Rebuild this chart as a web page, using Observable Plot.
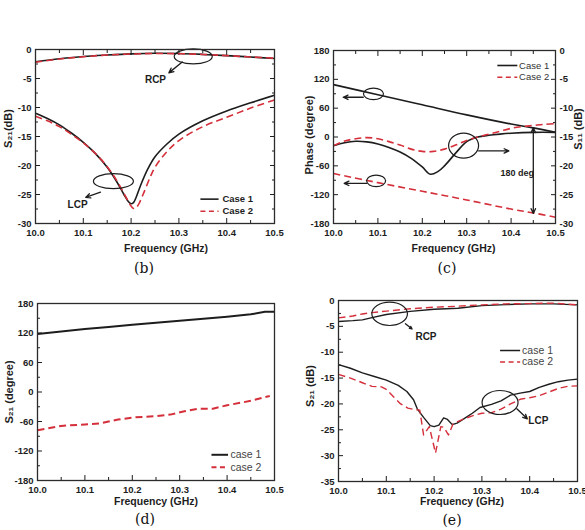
<!DOCTYPE html>
<html>
<head>
<meta charset="utf-8">
<script src="https://cdn.jsdelivr.net/npm/d3@7"></script>
<script src="https://cdn.jsdelivr.net/npm/@observablehq/plot@0.6"></script>
<style>
  html, body { margin: 0; padding: 0; background: #fff; }
  #figure { position: relative; width: 585px; height: 530px; overflow: hidden; background: #fff; }
  .panel { position: absolute; }
  .panel svg { overflow: visible; }
  .caption { position: absolute; transform: translate(-50%, -50%); font-family: "DejaVu Serif", "Liberation Serif", serif; font-size: 14px; color: #111; }
</style>
</head>
<body>
<div id="figure"></div>
<script>
// ---------- shared frequency axis ----------
const freqTicks = [10.0, 10.1, 10.2, 10.3, 10.4, 10.5];
const freqMinor = [10.05, 10.15, 10.25, 10.35, 10.45];

// ---------- (b) simulated S21 magnitude ----------
const bRcpFreq = [10.0, 10.05, 10.1, 10.15, 10.2, 10.25, 10.3, 10.35, 10.4, 10.45, 10.5];
const bRcpCase1 = [-2.1, -1.6, -1.2, -0.95, -0.75, -0.65, -0.7, -0.85, -1.05, -1.3, -1.55];
const bRcpCase2 = [-2.2, -1.65, -1.25, -0.95, -0.78, -0.68, -0.72, -0.85, -1.05, -1.28, -1.5];
const bLcpFreq1 = [10.0, 10.025, 10.05, 10.075, 10.1, 10.125, 10.15, 10.17, 10.185, 10.195, 10.2, 10.205, 10.21, 10.22, 10.235, 10.25, 10.275, 10.3, 10.35, 10.4, 10.45, 10.5];
const bLcpCase1 = [-11.0, -11.9, -13.0, -14.4, -16.0, -17.9, -20.3, -22.8, -25.0, -26.3, -26.6, -26.4, -25.6, -23.4, -20.6, -18.5, -16.3, -14.6, -12.3, -10.6, -9.2, -7.9];
const bLcpFreq2 = [10.0, 10.025, 10.05, 10.075, 10.1, 10.125, 10.15, 10.17, 10.185, 10.2, 10.205, 10.21, 10.215, 10.225, 10.24, 10.25, 10.275, 10.3, 10.35, 10.4, 10.45, 10.5];
const bLcpCase2 = [-11.5, -12.3, -13.3, -14.6, -16.1, -17.9, -20.2, -22.6, -24.8, -27.0, -27.4, -27.3, -26.8, -25.0, -22.0, -20.3, -17.6, -15.7, -13.3, -11.7, -10.1, -8.7];
const dB30Ticks = [0, -5, -10, -15, -20, -25, -30];
const dB30Minor = [-2.5, -7.5, -12.5, -17.5, -22.5, -27.5];

// ---------- (c) phase (left axis) and S11 (right axis) ----------
const cPhaseFreq = [10.0, 10.1, 10.2, 10.3, 10.4, 10.45, 10.5];
const cPhaseCase1 = [109, 88, 67, 46, 27, 19, 10];
const cPhaseCase2 = [-76, -95, -113, -131, -150, -158, -167];
const cS11Freq1 = [10.0, 10.025, 10.05, 10.075, 10.1, 10.125, 10.15, 10.175, 10.2, 10.218, 10.235, 10.25, 10.275, 10.3, 10.325, 10.35, 10.375, 10.4, 10.45, 10.5];
const cS11Case1 = [-16.5, -16.0, -15.75, -15.85, -16.2, -16.8, -17.6, -18.7, -20.2, -21.45, -21.0, -20.0, -17.8, -15.8, -15.0, -14.7, -14.5, -14.35, -14.2, -14.2];
const cS11Freq2 = [10.0, 10.025, 10.05, 10.075, 10.1, 10.125, 10.15, 10.175, 10.2, 10.225, 10.25, 10.275, 10.3, 10.325, 10.35, 10.375, 10.4, 10.425, 10.45, 10.475, 10.5];
const cS11Case2 = [-16.5, -15.7, -15.3, -15.1, -15.3, -15.8, -16.4, -17.1, -17.5, -17.5, -17.1, -16.4, -15.6, -15.0, -14.5, -14.0, -13.5, -13.2, -13.0, -12.8, -12.7];
const degTicks = [180, 120, 60, 0, -60, -120, -180];
const degMinor = [150, 90, 30, -30, -90, -150];
const s11Ticks = [0, -5, -10, -15, -20, -25, -30];

// ---------- (d) measured S21 phase ----------
const dFreq1 = [10.0, 10.05, 10.1, 10.15, 10.2, 10.25, 10.3, 10.35, 10.4, 10.45, 10.48, 10.5];
const dPhaseCase1 = [118, 123, 128, 132, 137, 141, 145, 149, 153, 158, 163, 163];
const dFreq2 = [10.0, 10.05, 10.1, 10.13, 10.17, 10.2, 10.25, 10.28, 10.31, 10.34, 10.37, 10.4, 10.45, 10.49];
const dPhaseCase2 = [-78, -69, -66, -64, -56, -52, -49, -46, -39, -34, -34, -27, -18, -8];

// ---------- (e) measured S21 magnitude ----------
const eRcpFreq = [10.0, 10.03, 10.05, 10.07, 10.1, 10.15, 10.2, 10.25, 10.3, 10.35, 10.4, 10.45, 10.5];
const eRcpCase1 = [-4.05, -3.9, -3.75, -3.3, -2.7, -2.1, -1.7, -1.5, -1.0, -0.8, -0.65, -0.65, -0.85];
const eRcpCase2 = [-3.35, -3.0, -2.6, -2.35, -2.05, -1.6, -1.3, -1.1, -0.85, -0.65, -0.6, -0.5, -0.85];
const eLcpFreq1 = [10.0, 10.025, 10.05, 10.075, 10.1, 10.125, 10.143, 10.157, 10.165, 10.178, 10.192, 10.2, 10.21, 10.22, 10.228, 10.238, 10.248, 10.262, 10.28, 10.296, 10.32, 10.34, 10.36, 10.38, 10.4, 10.42, 10.44, 10.46, 10.48, 10.5];
const eLcpCase1 = [-12.4, -13.1, -14.0, -14.7, -15.4, -16.4, -17.6, -19.2, -21.0, -22.6, -24.2, -24.4, -24.1, -22.7, -23.0, -24.0, -23.7, -22.9, -21.8, -20.7, -20.1, -19.4, -18.3, -17.9, -17.6, -16.8, -16.2, -15.7, -15.4, -15.2];
const eLcpFreq2 = [10.0, 10.025, 10.05, 10.07, 10.09, 10.1, 10.115, 10.13, 10.145, 10.16, 10.17, 10.178, 10.19, 10.203, 10.214, 10.22, 10.23, 10.24, 10.26, 10.28, 10.3, 10.32, 10.34, 10.36, 10.38, 10.4, 10.42, 10.44, 10.46, 10.48, 10.5];
const eLcpCase2 = [-14.3, -15.0, -15.9, -16.6, -16.7, -17.2, -18.6, -20.0, -20.8, -21.1, -21.2, -26.0, -24.4, -29.5, -24.4, -24.5, -26.0, -23.8, -23.0, -22.3, -21.8, -21.7, -21.0, -20.0, -19.1, -18.8, -18.4, -17.7, -17.0, -16.6, -16.5];
const dB35Ticks = [0, -5, -10, -15, -20, -25, -30, -35];
const dB35Minor = [-2.5, -7.5, -12.5, -17.5, -22.5, -27.5, -32.5];

// ---------- styling ----------
const INK = "#1d1d1d";
const RED = "#d42f3a";
const SANS = "'Liberation Sans', Arial, Helvetica, sans-serif";

// S11 in dB shares the phase axis of (c): 0 dB -> 180 deg, -30 dB -> -180 deg
const toPhase = (db) => 180 + 12 * db;
const fromPhase = (deg) => (deg - 180) / 12;

const rows = (xs, ys) => xs.map((x, i) => ({x, y: ys[i]}));

function curve(xs, ys, {dashed = false, width = 1.6, shape = "catmull-rom"} = {}) {
  return Plot.line(rows(xs, ys), {
    x: "x", y: "y", curve: shape,
    stroke: dashed ? RED : INK, strokeWidth: width,
    strokeDasharray: dashed ? "7,4" : null, strokeLinecap: "butt"
  });
}

function xAxes(mirror) {
  const base = {color: INK, label: null};
  const m = [
    Plot.axisX(freqTicks, {...base, anchor: "bottom", tickSize: -5, tickPadding: 10.5, tickFormat: (d) => d.toFixed(1), fontWeight: "bold", fontSize: 9.5}),
    Plot.axisX(freqMinor, {...base, anchor: "bottom", tickSize: -3, tickFormat: () => ""})
  ];
  if (mirror) m.push(
    Plot.axisX(freqTicks, {...base, anchor: "top", tickSize: -5, tickFormat: () => ""}),
    Plot.axisX(freqMinor, {...base, anchor: "top", tickSize: -3, tickFormat: () => ""})
  );
  return m;
}

function yAxes(ticks, minor, {anchor = "left", format = (d) => String(d), labels = true} = {}) {
  return [
    Plot.axisY(ticks, {color: INK, label: null, anchor, tickSize: -5, tickPadding: 9, tickFormat: labels ? format : () => "", fontWeight: "bold", fontSize: 9.5}),
    Plot.axisY(minor, {color: INK, label: null, anchor, tickSize: -3, tickFormat: () => ""})
  ];
}

// ellipse outline used for the callouts that tie curves to an axis or a polarisation
function ellipse(rx, ry) {
  const k = 0.5523;
  return {
    draw(c) {
      c.moveTo(rx, 0);
      c.bezierCurveTo(rx, ry * k, rx * k, ry, 0, ry);
      c.bezierCurveTo(-rx * k, ry, -rx, ry * k, -rx, 0);
      c.bezierCurveTo(-rx, -ry * k, -rx * k, -ry, 0, -ry);
      c.bezierCurveTo(rx * k, -ry, rx, -ry * k, rx, 0);
      c.closePath();
    }
  };
}
const ring = (a) => Plot.dot([a], {x: "x", y: "y", symbol: ellipse(a.rx, a.ry), fill: "none", stroke: INK, strokeWidth: 1.2});
const pointer = (a) => Plot.arrow([a], {x1: "x1", y1: "y1", x2: "x2", y2: "y2", stroke: INK, strokeWidth: 1.3, headLength: 6, headAngle: 50});
const note = (a, opts = {}) => Plot.text([a], {x: "x", y: "y", text: "text", fill: INK, fontWeight: "bold", fontSize: 10, ...opts});

function legend(entries, x1, x2, tx, {weight = "bold", size = 9.5, width = 1.6, color = INK} = {}) {
  const m = [];
  for (const e of entries) {
    m.push(Plot.link([e], {x1: () => x1, x2: () => x2, y1: "y", y2: "y", stroke: e.dashed ? RED : INK, strokeWidth: width, strokeDasharray: e.dashed ? "5,3.5" : null}));
  }
  m.push(Plot.text(entries, {x: () => tx, y: "y", text: "label", textAnchor: "start", fontWeight: weight, fontSize: size, fill: color}));
  return m;
}

const yTitle = (text, dx, dy, anchor = "left") =>
  Plot.text([text], {frameAnchor: anchor, rotate: -90, dx, dy, text: (d) => d, textAnchor: "middle", lineAnchor: "middle", fontWeight: "bold", fontSize: 11, fill: INK});
const xTitle = (text, dx, dy) =>
  Plot.text([text], {frameAnchor: "bottom", dx, dy, text: (d) => d, textAnchor: "middle", lineAnchor: "middle", fontWeight: "bold", fontSize: 10.5, fill: INK});
const border = () => Plot.frame({stroke: "#2b2b2b", strokeWidth: 1.3});

const fig = document.getElementById("figure");

function panel(box, yDomain, marks) {
  const svg = Plot.plot({
    width: box.w, height: box.h,
    marginLeft: box.ml, marginRight: box.mr, marginTop: box.mt, marginBottom: box.mb,
    x: {domain: [10.0, 10.5], axis: null, label: null},
    y: {domain: yDomain, axis: null, label: null},
    style: {fontFamily: SANS, fontSize: "10px", color: INK, background: "transparent", overflow: "visible"},
    marks
  });
  const div = document.createElement("div");
  div.className = "panel";
  div.style.left = box.x + "px";
  div.style.top = box.y + "px";
  div.appendChild(svg);
  fig.appendChild(div);
}

function caption(text, x, y) {
  const c = document.createElement("div");
  c.className = "caption";
  c.textContent = text;
  c.style.left = x + "px";
  c.style.top = y + "px";
  fig.appendChild(c);
}

// ---------- (b) ----------
panel({x: 0, y: 0, w: 290, h: 258, ml: 35, mr: 16, mt: 49, mb: 35}, [-30, 0], [
  ...yAxes(dB30Ticks, dB30Minor),
  ...yAxes(dB30Ticks, dB30Minor, {anchor: "right", labels: false}),
  ...xAxes(true),
  curve(bRcpFreq, bRcpCase1),
  curve(bRcpFreq, bRcpCase2, {dashed: true}),
  curve(bLcpFreq1, bLcpCase1),
  curve(bLcpFreq2, bLcpCase2, {dashed: true}),
  ring({x: 10.33, y: -1.19, rx: 19, ry: 7.5}),
  pointer({x1: 10.307, y1: -2.14, x2: 10.279, y2: -4.03}),
  note({x: 10.251, y: -5.29, text: "RCP"}),
  ring({x: 10.163, y: -22.7, rx: 20, ry: 7.5}),
  pointer({x1: 10.136, y1: -24.6, x2: 10.105, y2: -25.5}),
  note({x: 10.088, y: -26.7, text: "LCP"}),
  ...legend([{label: "Case 1", y: -25.8, dashed: false}, {label: "Case 2", y: -27.9, dashed: true}], 10.345, 10.383, 10.391),
  yTitle("S\u2082\u2081(dB)", -27, -8),
  xTitle("Frequency (GHz)", 11, 25),
  border()
]);

// ---------- (c) ----------
panel({x: 290, y: 0, w: 295, h: 258, ml: 43, mr: 30, mt: 50, mb: 35}, [-180, 180], [
  ...yAxes(degTicks, degMinor),
  ...yAxes(s11Ticks.map(toPhase), degMinor, {anchor: "right", format: (d) => String(fromPhase(d))}),
  ...xAxes(true),
  curve(cPhaseFreq, cPhaseCase1),
  curve(cPhaseFreq, cPhaseCase2, {dashed: true}),
  curve(cS11Freq1, cS11Case1.map(toPhase)),
  curve(cS11Freq2, cS11Case2.map(toPhase), {dashed: true}),
  ring({x: 10.09, y: 89.8, rx: 10, ry: 5.8}),
  pointer({x1: 10.067, y1: 82.7, x2: 10.022, y2: 82.7}),
  ring({x: 10.096, y: -91.2, rx: 9.5, ry: 5.8}),
  pointer({x1: 10.075, y1: -96.4, x2: 10.024, y2: -96.4}),
  ring({x: 10.293, y: -17.9, rx: 15, ry: 12.5}),
  pointer({x1: 10.327, y1: -29, x2: 10.395, y2: -29}),
  pointer({x1: 10.45, y1: -70, x2: 10.45, y2: 19}),
  pointer({x1: 10.45, y1: -70, x2: 10.45, y2: -159}),
  note({x: 10.414, y: -75, text: "180 deg"}, {fontSize: 9}),
  ...legend([{label: "Case 1", y: 148.8, dashed: false}, {label: "Case 2", y: 124.4, dashed: true}], 10.369, 10.414, 10.418, {weight: "normal", size: 9.5, color: "#333"}),
  yTitle("Phase (degree)", -24, -2),
  yTitle("S\u2081\u2081 (dB)", 23, -8, "right"),
  xTitle("Frequency (GHz)", 9, 25),
  border()
]);

// ---------- (d) ----------
panel({x: 0, y: 276, w: 290, h: 236, ml: 37, mr: 16, mt: 27, mb: 32}, [-180, 180], [
  ...yAxes(degTicks, degMinor),
  ...xAxes(false),
  curve(dFreq1, dPhaseCase1, {width: 2, shape: "linear"}),
  curve(dFreq2, dPhaseCase2, {dashed: true, width: 2, shape: "linear"}),
  ...legend([{label: "case 1", y: -127.7, dashed: false}, {label: "case 2", y: -152.9, dashed: true}], 10.367, 10.402, 10.407, {weight: "normal", size: 10.5, width: 2, color: "#444"}),
  yTitle("S\u2082\u2081 (degree)", -28, 0),
  xTitle("Frequency (GHz)", 0, 21.5),
  border()
]);

// ---------- (e) ----------
panel({x: 290, y: 276, w: 295, h: 236, ml: 48, mr: 8, mt: 24, mb: 31}, [-35, 0], [
  ...yAxes(dB35Ticks, dB35Minor),
  ...xAxes(false),
  curve(eRcpFreq, eRcpCase1, {width: 1.4, shape: "linear"}),
  curve(eRcpFreq, eRcpCase2, {dashed: true, width: 1.4, shape: "linear"}),
  curve(eLcpFreq1, eLcpCase1, {width: 1.4, shape: "linear"}),
  curve(eLcpFreq2, eLcpCase2, {dashed: true, width: 1.4, shape: "linear"}),
  ring({x: 10.107, y: -2.57, rx: 17.8, ry: 11.7}),
  pointer({x1: 10.14, y1: -4.5, x2: 10.154, y2: -5.5}),
  note({x: 10.183, y: -6.96, text: "RCP"}),
  ring({x: 10.338, y: -19.72, rx: 18, ry: 12}),
  pointer({x1: 10.373, y1: -20.94, x2: 10.395, y2: -22.88}),
  note({x: 10.418, y: -23.2, text: "LCP"}),
  ...legend([{label: "case 1", y: -9.67, dashed: false}, {label: "case 2", y: -11.9, dashed: true}], 10.338, 10.38, 10.384, {weight: "normal", size: 10.5, width: 1.5, color: "#444"}),
  yTitle("S\u2082\u2081 (dB)", -28, -5),
  xTitle("Frequency (GHz)", 4, 20.5),
  border()
]);

caption("(b)", 144, 268);
caption("(c)", 447, 268);
caption("(d)", 145, 519);
caption("(e)", 452, 520);
</script>
</body>
</html>
